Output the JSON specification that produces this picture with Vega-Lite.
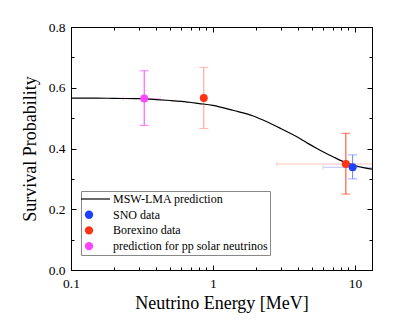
{
  "$schema": "https://vega.github.io/schema/vega-lite/v6.json",
  "width": 301,
  "height": 243,
  "autosize": "none",
  "padding": {"left": 71, "top": 27, "right": 43, "bottom": 51},
  "background": "white",
  "config": {
    "font": "Liberation Serif",
    "view": {"stroke": "black", "strokeWidth": 1},
    "axis": {
      "grid": false,
      "domainColor": "black",
      "tickColor": "black",
      "labelColor": "black",
      "titleColor": "black",
      "labelFont": "Liberation Serif",
      "titleFont": "Liberation Serif",
      "labelFontSize": 13.5,
      "titleFontSize": 18,
      "titleFontWeight": "normal",
      "tickWidth": 1,
      "domainWidth": 1
    }
  },
  "datasets": {
    "pts": [
      {"series": "prediction for pp solar neutrinos", "id": "pp", "E": 0.328, "P": 0.565, "Plo": 0.476, "Phi": 0.656, "Elo": 0.233, "Ehi": 0.425},
      {"series": "Borexino data", "id": "be7", "E": 0.862, "P": 0.566, "Plo": 0.466, "Phi": 0.667, "Elo": null, "Ehi": null},
      {"series": "Borexino data", "id": "b8", "E": 8.64, "P": 0.349, "Plo": 0.25, "Phi": 0.45, "Elo": 2.81, "Ehi": 15},
      {"series": "SNO data", "id": "sno", "E": 9.64, "P": 0.338, "Plo": 0.3, "Phi": 0.379, "Elo": 5.98, "Ehi": 15}
    ],
    "curve": [
      {"E": 0.1, "P": 0.566}, {"E": 0.15, "P": 0.566}, {"E": 0.2, "P": 0.565}, {"E": 0.3, "P": 0.564},
      {"E": 0.4, "P": 0.561}, {"E": 0.5, "P": 0.558}, {"E": 0.6, "P": 0.555}, {"E": 0.8, "P": 0.548},
      {"E": 1.0, "P": 0.542}, {"E": 1.4, "P": 0.525}, {"E": 1.9, "P": 0.508}, {"E": 2.4, "P": 0.488},
      {"E": 3.0, "P": 0.466}, {"E": 3.5, "P": 0.45}, {"E": 4.1, "P": 0.433}, {"E": 4.7, "P": 0.416},
      {"E": 5.4, "P": 0.4}, {"E": 6.2, "P": 0.385}, {"E": 7.0, "P": 0.373}, {"E": 8.0, "P": 0.36},
      {"E": 8.8, "P": 0.352}, {"E": 10, "P": 0.344}, {"E": 11.5, "P": 0.337}, {"E": 13.2, "P": 0.332}
    ]
  },
  "layer": [
    {
      "data": {"name": "pts"},
      "transform": [{"filter": "datum.Elo != null"}],
      "encoding": {
        "y": {"field": "P", "type": "quantitative", "scale": {"domain": [0, 0.8], "nice": false, "zero": false}, "axis": null},
        "color": {"field": "id", "type": "nominal", "scale": {"domain": ["pp", "be7", "b8", "sno"], "range": ["#ffbcff", "#ffc4b8", "#ffc4b8", "#bcc6ff"]}, "legend": null}
      },
      "layer": [
        {
          "mark": {"type": "rule", "clip": true, "strokeWidth": 1},
          "encoding": {
            "x": {"field": "Elo", "type": "quantitative", "scale": {"type": "log", "domain": [0.1, 13.2], "nice": false}, "axis": null},
            "x2": {"field": "Ehi"}
          }
        },
        {
          "mark": {"type": "tick", "clip": true, "orient": "vertical", "size": 5, "thickness": 1},
          "encoding": {
            "x": {"field": "Elo", "type": "quantitative", "scale": {"type": "log", "domain": [0.1, 13.2], "nice": false}, "axis": null}
          }
        },
        {
          "mark": {"type": "tick", "clip": true, "orient": "vertical", "size": 5, "thickness": 1},
          "encoding": {
            "x": {"field": "Ehi", "type": "quantitative", "scale": {"type": "log", "domain": [0.1, 13.2], "nice": false}, "axis": null}
          }
        }
      ]
    },
    {
      "data": {"name": "pts"},
      "encoding": {
        "x": {"field": "E", "type": "quantitative", "scale": {"type": "log", "domain": [0.1, 13.2], "nice": false},
          "axis": {"orient": "top", "title": null, "labels": false, "values": [0.1, 0.2, 0.3, 0.4, 0.5, 0.6, 0.7, 0.8, 0.9, 1, 2, 3, 4, 5, 6, 7, 8, 9, 10],
            "tickSize": {"condition": {"test": "datum.value == 0.1 || datum.value == 1 || datum.value == 10", "value": -5}, "value": -3}}},
        "color": {"field": "id", "type": "nominal", "scale": {"domain": ["pp", "be7", "b8", "sno"], "range": ["#ff44ff", "#ff9a86", "#ff3a1a", "#6a84ff"]}, "legend": null}
      },
      "layer": [
        {
          "mark": {"type": "rule", "strokeWidth": 1},
          "encoding": {
            "y": {"field": "Plo", "type": "quantitative", "scale": {"domain": [0, 0.8], "nice": false, "zero": false},
              "axis": {"orient": "right", "title": null, "labels": false, "values": [0, 0.1, 0.2, 0.3, 0.4, 0.5, 0.6, 0.7, 0.8],
                "tickSize": {"condition": {"test": "round(datum.value*10) % 2 == 0", "value": -5}, "value": -3}}},
            "y2": {"field": "Phi"}
          }
        },
        {
          "mark": {"type": "tick", "orient": "horizontal", "size": 9, "thickness": 1},
          "encoding": {
            "y": {"field": "Plo", "type": "quantitative", "scale": {"domain": [0, 0.8], "nice": false, "zero": false},
              "axis": {"orient": "right", "title": null, "labels": false, "values": [0, 0.1, 0.2, 0.3, 0.4, 0.5, 0.6, 0.7, 0.8],
                "tickSize": {"condition": {"test": "round(datum.value*10) % 2 == 0", "value": -5}, "value": -3}}}
          }
        },
        {
          "mark": {"type": "tick", "orient": "horizontal", "size": 9, "thickness": 1},
          "encoding": {
            "y": {"field": "Phi", "type": "quantitative", "scale": {"domain": [0, 0.8], "nice": false, "zero": false},
              "axis": {"orient": "right", "title": null, "labels": false, "values": [0, 0.1, 0.2, 0.3, 0.4, 0.5, 0.6, 0.7, 0.8],
                "tickSize": {"condition": {"test": "round(datum.value*10) % 2 == 0", "value": -5}, "value": -3}}}
          }
        }
      ]
    },
    {
      "layer": [
        {
          "data": {"name": "curve"},
          "mark": {"type": "line", "color": "black", "strokeWidth": 1.2, "interpolate": "monotone"},
          "encoding": {
            "x": {"field": "E", "type": "quantitative", "scale": {"type": "log", "domain": [0.1, 13.2], "nice": false},
              "axis": {"orient": "bottom", "title": "Neutrino Energy [MeV]", "values": [0.1, 0.2, 0.3, 0.4, 0.5, 0.6, 0.7, 0.8, 0.9, 1, 2, 3, 4, 5, 6, 7, 8, 9, 10],
                "format": "~g", "labelExpr": "(datum.value == 0.1 || datum.value == 1 || datum.value == 10) ? datum.label : ''",
                "labelOverlap": false, "labelFlush": false, "labelPadding": 11, "titlePadding": 3,
                "tickSize": {"condition": {"test": "datum.value == 0.1 || datum.value == 1 || datum.value == 10", "value": -5}, "value": -3}}},
            "y": {"field": "P", "type": "quantitative", "scale": {"domain": [0, 0.8], "nice": false, "zero": false},
              "axis": {"orient": "left", "title": "Survival Probability", "values": [0, 0.1, 0.2, 0.3, 0.4, 0.5, 0.6, 0.7, 0.8],
                "format": ".1f", "labelExpr": "round(datum.value*10) % 2 == 0 ? datum.label : ''",
                "labelOverlap": false, "labelPadding": 11, "titlePadding": 9,
                "tickSize": {"condition": {"test": "round(datum.value*10) % 2 == 0", "value": -5}, "value": -3}}}
          }
        },
        {
          "data": {"name": "pts"},
          "mark": {"type": "point", "filled": true, "size": 64, "opacity": 1},
          "encoding": {
            "x": {"field": "E", "type": "quantitative", "scale": {"type": "log", "domain": [0.1, 13.2], "nice": false},
              "axis": {"orient": "bottom", "title": "Neutrino Energy [MeV]", "values": [0.1, 0.2, 0.3, 0.4, 0.5, 0.6, 0.7, 0.8, 0.9, 1, 2, 3, 4, 5, 6, 7, 8, 9, 10],
                "format": "~g", "labelExpr": "(datum.value == 0.1 || datum.value == 1 || datum.value == 10) ? datum.label : ''",
                "labelOverlap": false, "labelFlush": false, "labelPadding": 11, "titlePadding": 3,
                "tickSize": {"condition": {"test": "datum.value == 0.1 || datum.value == 1 || datum.value == 10", "value": -5}, "value": -3}}},
            "y": {"field": "P", "type": "quantitative", "scale": {"domain": [0, 0.8], "nice": false, "zero": false},
              "axis": {"orient": "left", "title": "Survival Probability", "values": [0, 0.1, 0.2, 0.3, 0.4, 0.5, 0.6, 0.7, 0.8],
                "format": ".1f", "labelExpr": "round(datum.value*10) % 2 == 0 ? datum.label : ''",
                "labelOverlap": false, "labelPadding": 11, "titlePadding": 9,
                "tickSize": {"condition": {"test": "round(datum.value*10) % 2 == 0", "value": -5}, "value": -3}}},
            "color": {"field": "series", "type": "nominal",
              "scale": {"domain": ["MSW-LMA prediction", "SNO data", "Borexino data", "prediction for pp solar neutrinos"], "range": ["black", "#1e40ff", "#ff3414", "#ff44ff"]},
              "legend": {"orient": "none", "legendX": 10, "legendY": 164, "title": null, "padding": 2, "fillColor": "white", "strokeColor": "#888888",
                "labelFont": "Liberation Serif", "labelFontSize": 12, "labelColor": "black", "labelLimit": 400, "labelOffset": 18, "rowPadding": 3.7,
                "symbolSize": 70}},
            "shape": {"field": "series", "type": "nominal",
              "scale": {"domain": ["MSW-LMA prediction", "SNO data", "Borexino data", "prediction for pp solar neutrinos"], "range": ["M-1.91,-0.14L5.02,-0.14L5.02,0.14L-1.91,0.14Z", "circle", "circle", "circle"]},
              "legend": {"orient": "none", "legendX": 10, "legendY": 164, "title": null, "padding": 2, "fillColor": "white", "strokeColor": "#888888",
                "labelFont": "Liberation Serif", "labelFontSize": 12, "labelColor": "black", "labelLimit": 400, "labelOffset": 18, "rowPadding": 3.7,
                "symbolSize": 70}}
          }
        }
      ]
    }
  ],
  "resolve": {"scale": {"color": "independent", "shape": "independent"}, "axis": {"x": "independent", "y": "independent"}}
}
